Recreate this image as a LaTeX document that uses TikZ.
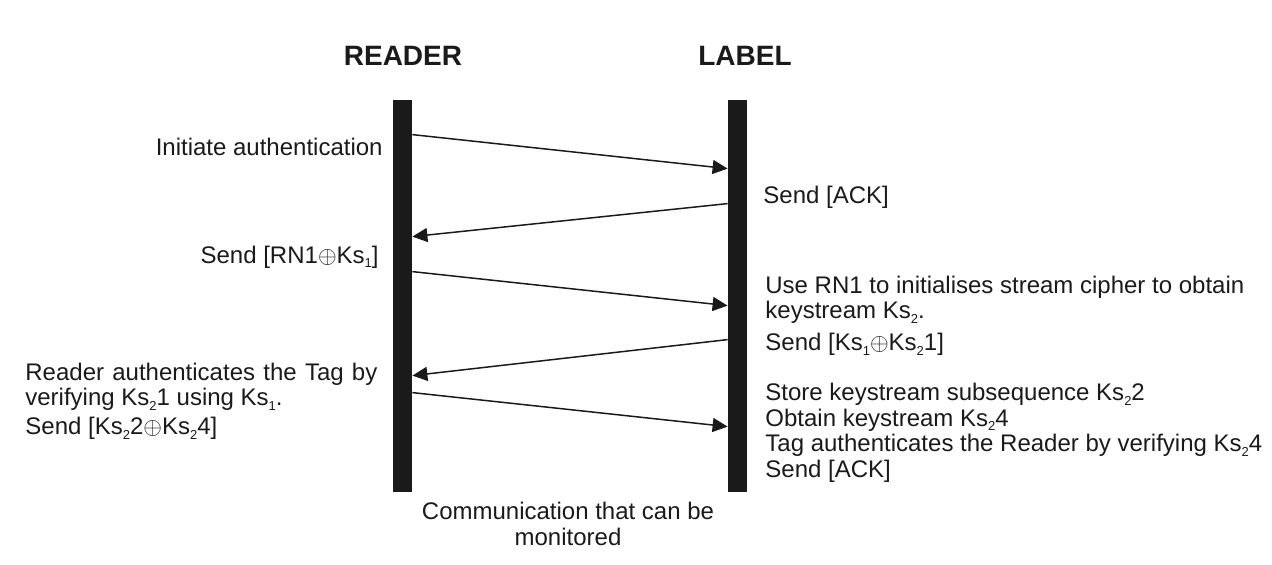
\documentclass[tikz,border=0pt]{standalone}
\usepackage{fontspec}
\setmainfont{Liberation Sans}
\usetikzlibrary{arrows.meta}
\definecolor{ink}{HTML}{1A1A1A}
\newcommand{\ks}[1]{Ks\raisebox{-2.2pt}{\fontsize{6.5}{6.5}\selectfont #1}}
\newcommand{\xor}{$\oplus$}
\newcommand{\sendmsg}[4]{
    \draw[msg] ([yshift=-#3]#1) -- ([yshift=-#4]#2);
}
\tikzset{
    bar/.style={fill=ink, draw=none, inner sep=0pt, minimum width=9.5pt, minimum height=196pt},
    party/.style={font=\fontsize{14}{14}\selectfont\bfseries, text=ink, inner sep=0pt, anchor=base},
    txt/.style={font=\fontsize{12}{12.5}\selectfont, text=ink, inner sep=0pt},
    msg/.style={draw=ink, line width=0.75pt, -{Triangle[length=7.5pt,width=7pt]}}
}

\begin{document}
\begin{tikzpicture}[x=0.5pt,y=-0.5pt]
\useasboundingbox (0,0) rectangle (1272,564);
\node[party] (readertitle) at (403,65) {READER};
\node[party] (labeltitle) at (745,65) {LABEL};
\node[bar] (reader) at (402.5,296) {};
\node[bar] (label) at (737.5,296) {};
% messages
\sendmsg{reader.north east}{label.north west}{17.5pt}{34.5pt}
\sendmsg{label.north west}{reader.north east}{52pt}{68.5pt}
\sendmsg{reader.north east}{label.north west}{86pt}{103pt}
\sendmsg{label.north west}{reader.north east}{120pt}{138pt}
\sendmsg{reader.north east}{label.north west}{146.5pt}{163.5pt}
% reader side
\node[txt, anchor=base east] (init) at (383,155) {Initiate authentication};
\node[txt, anchor=base east] (sendrn) at (379,263) {Send [RN1\xor\ks{1}]};
\node[txt, anchor=north west, align=left] (verify) at (25,363)
    {\makebox[176pt][s]{Reader authenticates the Tag by}\\verifying \ks{2}1 using \ks{1}.\\[2pt]Send [\ks{2}2\xor\ks{2}4]};
% label side
\node[txt, anchor=base west] (ack) at (763,203) {Send [ACK]};
\node[txt, anchor=north west, align=left] (cipher) at (765,276)
    {Use RN1 to initialises stream cipher to obtain\\keystream \ks{2}.\\[3.5pt]Send [\ks{1}\xor\ks{2}1]};
\node[txt, anchor=north west, align=left, font=\fontsize{12}{12.75}\selectfont] (store) at (765,383)
    {Store keystream subsequence \ks{2}2\\Obtain keystream \ks{2}4\\Tag authenticates the Reader by verifying \ks{2}4\\Send [ACK]};
\node[txt, anchor=north, align=center, font=\fontsize{12}{13}\selectfont] (monitor) at (568,502)
    {Communication that can be\\monitored};
\end{tikzpicture}
\end{document}
